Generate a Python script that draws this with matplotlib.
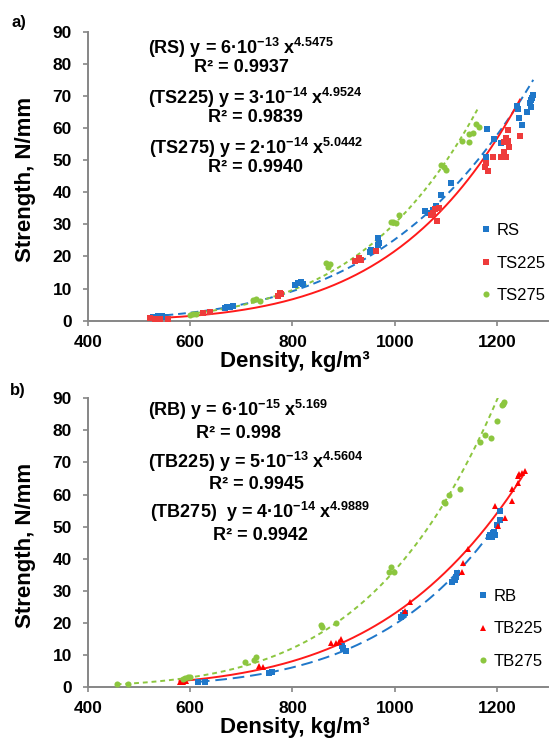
import numpy as np
import matplotlib.pyplot as plt

plt.rcParams['font.family'] = ['Liberation Sans', 'DejaVu Sans']
plt.rcParams['mathtext.fontset'] = 'custom'
plt.rcParams['mathtext.rm'] = 'Liberation Sans:bold'
plt.rcParams['mathtext.bf'] = 'Liberation Sans:bold'
plt.rcParams['mathtext.it'] = 'Liberation Sans:bold'

# ---- panel a) ----
rs_x = [527, 537, 544, 550, 668, 671, 677, 684, 804, 811, 817, 820, 951, 954, 967, 967, 969,
        1060, 1068, 1074, 1080, 1091, 1110, 1179, 1181, 1195, 1208,
        1240, 1242, 1244, 1249, 1259, 1265, 1266, 1266, 1268, 1271]
rs_y = [1.2, 1.5, 1.5, 1.2, 3.9, 4.4, 4.4, 4.6, 11.1, 11.6, 12.1, 11.4, 21.5, 22, 23.6, 25.7, 24.1,
        34.3, 33.6, 34.5, 35.7, 39.1, 43, 51.1, 59.6, 56.5, 55.2,
        66.9, 65.8, 63, 61, 65.1, 67.9, 68.7, 66.5, 69.3, 70.3]

ts225_x = [521, 531, 541, 557, 625, 638, 772, 775, 778, 922, 931, 934, 964,
           1071, 1074, 1078, 1082, 1086, 1177, 1179, 1182, 1192, 1208, 1213, 1214,
           1218, 1218, 1221, 1221, 1223, 1245]
ts225_y = [0.7, 0.5, 0.6, 0.5, 2.5, 2.7, 7.7, 8.5, 8.2, 18.7, 19.4, 18.9, 21.7,
           32.9, 33.4, 34.8, 31, 35, 48, 49, 46.7, 50.9, 51.1, 52.6, 55.7,
           56.8, 50.9, 59.4, 56, 54.2, 57.5]

ts275_x = [599, 606, 612, 723, 729, 736, 866, 870, 873, 993, 996, 1002, 1009,
           1091, 1097, 1100, 1132, 1145, 1146, 1153, 1159, 1164]
ts275_y = [1.8, 2.0, 2.1, 6.4, 6.7, 6.2, 17.9, 16.8, 17.7, 30.8, 30.8, 30.5, 32.9,
           48.5, 48, 46.9, 56, 58.1, 55.7, 58.4, 61.3, 60.4]

# ---- panel b) ----
rb_x = [615, 628, 755, 760, 896, 898, 904, 1013, 1016, 1020, 1113, 1117, 1120, 1122,
        1184, 1187, 1190, 1192, 1195, 1196, 1201, 1205, 1206]
rb_y = [1.6, 1.4, 4.4, 4.6, 12.7, 12.0, 11.2, 21.7, 22.4, 23.1, 32.8, 33.3, 34.3, 35.4,
        46.8, 47.3, 46.8, 47.9, 48.4, 47.3, 50.5, 52.0, 54.8]

tb225_x = [579, 586, 591, 735, 742, 876, 886, 891, 894, 1020, 1030, 1132, 1133, 1143,
           1197, 1202, 1216, 1230, 1230, 1242, 1242, 1243, 1249, 1254]
tb225_y = [1.6, 1.6, 1.7, 6.6, 6.2, 13.5, 13.7, 14.0, 14.9, 23.7, 26.5, 35.9, 38.7, 43.0,
           56.4, 50.2, 52.6, 58.0, 61.6, 63.5, 65.8, 66.4, 66.8, 67.4]

tb275_x = [456, 479, 586, 589, 596, 599, 708, 725, 729, 856, 857, 886, 989, 992, 998,
           1096, 1099, 1106, 1127, 1167, 1176, 1189, 1200, 1210, 1211, 1213]
tb275_y = [0.7, 0.7, 2.3, 2.6, 3.1, 2.9, 7.8, 8.3, 9.2, 19.3, 18.7, 20.0, 35.9, 37.5, 35.9,
           57.7, 57.2, 59.8, 61.6, 76.5, 78.6, 77.7, 83.0, 87.9, 88.4, 89.0]

BLUE = '#1f77c9'
RED = '#ee3b3b'
GREEN = '#8cc63f'
GREY = '#868686'

W, H = 551, 741


def power_trend(ax, x, y, color, dashes=None):
    # Excel-style power trendline: least squares in log-log space
    b, lna = np.polyfit(np.log(x), np.log(y), 1)
    xs = np.linspace(min(x), max(x), 200)
    line, = ax.plot(xs, np.exp(lna) * xs ** b, color=color, lw=1.4, zorder=2)
    if dashes:
        line.set_dashes(dashes)


def style_axes(ax):
    ax.set_xlim(400, 1300)
    ax.set_ylim(0, 90)
    ax.set_xticks([400, 600, 800, 1000, 1200])
    ax.set_yticks(range(0, 91, 10))
    for s in ['top', 'right']:
        ax.spines[s].set_visible(False)
    for s in ['left', 'bottom']:
        ax.spines[s].set_color(GREY)
        ax.spines[s].set_linewidth(1.4)
    ax.tick_params(axis='both', colors=GREY, width=1.2, length=3.6, labelcolor='black',
                   labelsize=12.5)
    ax.tick_params(axis='y', pad=8)
    ax.tick_params(axis='x', pad=7)
    for lab in ax.get_xticklabels() + ax.get_yticklabels():
        lab.set_fontweight('bold')
    ax.set_xlabel('Density, kg/m³', fontsize=16, fontweight='bold', va='center')
    ax.set_ylabel('Strength, N/mm', fontsize=16, fontweight='bold', va='center')
    ax.xaxis.set_label_coords(0.45, -0.142)
    ax.yaxis.set_label_coords(-0.135, 0.49)


def put(fig, px, py, s, **kw):
    fig.text(px / W, 1 - py / H, s, ha='center', va='center', **kw)


fig = plt.figure(figsize=(W / 100, H / 100), dpi=100)
ax1 = fig.add_axes([0.1597, 0.5672, 0.835, 0.390])
ax2 = fig.add_axes([0.1597, 0.0733, 0.835, 0.389])

# panel a
power_trend(ax1, rs_x, rs_y, BLUE, (4, 2.5))
power_trend(ax1, ts225_x, ts225_y, '#ff1a1a')
power_trend(ax1, ts275_x, ts275_y, GREEN, (2.2, 1.8))
ax1.plot(rs_x, rs_y, 's', color=BLUE, ms=3.8, mew=0, label='RS', zorder=3)
ax1.plot(ts225_x, ts225_y, 's', color=RED, ms=3.8, mew=0, label='TS225', zorder=3)
ax1.plot(ts275_x, ts275_y, 'o', color=GREEN, ms=4.4, mew=0, label='TS275', zorder=3)
style_axes(ax1)

# panel b
power_trend(ax2, rb_x, rb_y, BLUE, (6, 3))
power_trend(ax2, tb225_x, tb225_y, '#ff1a1a')
power_trend(ax2, tb275_x, tb275_y, GREEN, (2.5, 2))
ax2.plot(rb_x, rb_y, 's', color=BLUE, ms=3.8, mew=0, label='RB', zorder=3)
ax2.plot(tb225_x, tb225_y, '^', color='#ff0000', ms=4.2, mew=0, label='TB225', zorder=3)
ax2.plot(tb275_x, tb275_y, 'o', color=GREEN, ms=4.4, mew=0, label='TB275', zorder=3)
style_axes(ax2)

for ax, pos in [(ax1, (0.854, 0.338)), (ax2, (0.848, 0.339))]:
    ax.legend(loc='upper left', bbox_to_anchor=pos, frameon=False, fontsize=12,
              handlelength=0.6, handletextpad=0.35, labelspacing=1.05, borderpad=0,
              borderaxespad=0, numpoints=1, markerscale=1.0)

eq = dict(fontsize=13, fontweight='bold')
put(fig, 241, 48, '(RS) y = 6·10$^{-13}$ x$^{4.5475}$', **eq)
put(fig, 241, 68, 'R² = 0.9937', **eq)
put(fig, 255, 98, '(TS225) y = 3·10$^{-14}$ x$^{4.9524}$', **eq)
put(fig, 255, 118, 'R² = 0.9839', **eq)
put(fig, 256, 148, '(TS275) y = 2·10$^{-14}$ x$^{5.0442}$', **eq)
put(fig, 256, 168, 'R² = 0.9940', **eq)

put(fig, 238, 410, '(RB) y = 6·10$^{-15}$ x$^{5.169}$', **eq)
put(fig, 238, 433, 'R² = 0.998', **eq)
put(fig, 256, 462, '(TB225) y = 5·10$^{-13}$ x$^{4.5604}$', **eq)
put(fig, 256, 485, 'R² = 0.9945', **eq)
put(fig, 260, 512, '(TB275)  y = 4·10$^{-14}$ x$^{4.9889}$', **eq)
put(fig, 260, 535, 'R² = 0.9942', **eq)

put(fig, 19, 22, 'a)', fontsize=12, fontweight='bold')
put(fig, 18, 391, 'b)', fontsize=12, fontweight='bold')

fig.savefig('out.png', dpi=100)
